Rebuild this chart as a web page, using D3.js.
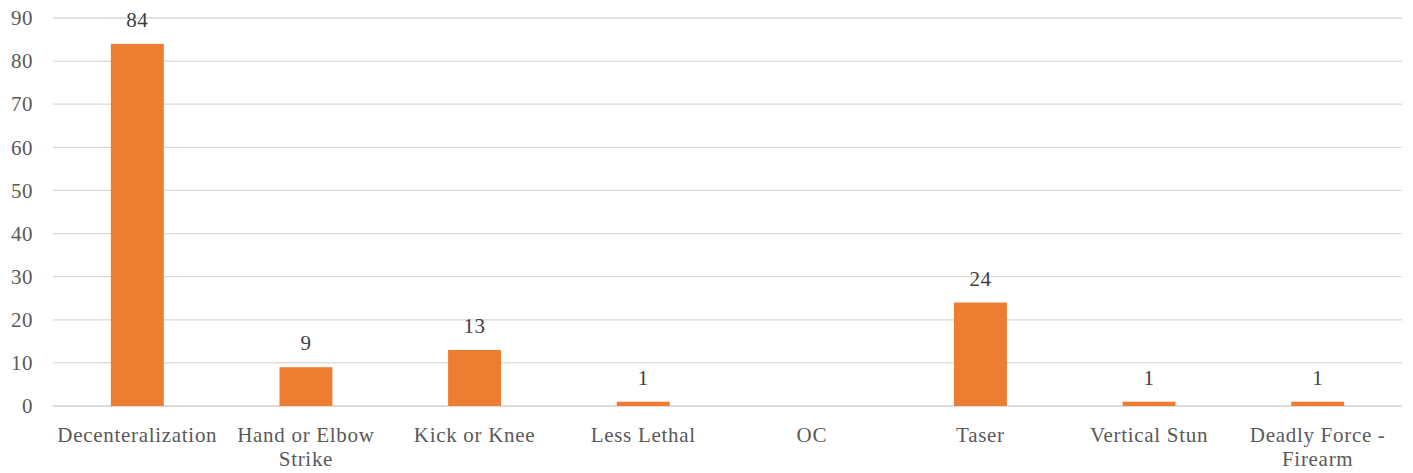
<!DOCTYPE html>
<html>
<head>
<meta charset="utf-8">
<script src="https://cdn.jsdelivr.net/npm/d3@7"></script>
<style>
  body { margin: 0; background: #fff; }
  text { font-family: "Liberation Serif", "DejaVu Serif", serif; }
</style>
</head>
<body>
<script>
// Datos del gráfico
const categorias = ["Decenteralization", "Hand or Elbow Strike", "Kick or Knee", "Less Lethal", "OC", "Taser", "Vertical Stun", "Deadly Force - Firearm"];
const valores = [84, 9, 13, 1, null, 24, 1, 1];
const ticksY = [0, 10, 20, 30, 40, 50, 60, 70, 80, 90];
// Cortes de línea de las etiquetas largas
const lineasEtiqueta = {
  "Hand or Elbow Strike": ["Hand or Elbow", "Strike"],
  "Deadly Force - Firearm": ["Deadly Force -", "Firearm"]
};

const ancho = 1413, alto = 473;
const margen = { top: 18, right: 11, bottom: 67, left: 53 };
const fuente = "'Liberation Serif', 'DejaVu Serif', serif";

const svg = d3.select("body").append("svg")
  .attr("width", ancho).attr("height", alto);

const x = d3.scaleBand()
  .domain(categorias)
  .range([margen.left, ancho - margen.right])
  .paddingInner(0.686)
  .paddingOuter(0.343);

const y = d3.scaleLinear()
  .domain([0, 90])
  .range([alto - margen.bottom, margen.top]);

// Líneas de la cuadrícula
svg.append("g")
  .selectAll("line")
  .data(ticksY)
  .join("line")
  .attr("x1", margen.left)
  .attr("x2", ancho - margen.right)
  .attr("y1", d => y(d))
  .attr("y2", d => y(d))
  .attr("stroke", d => d === 0 ? "#d0d0d0" : "#d9d9d9")
  .attr("stroke-width", d => d === 0 ? 1.5 : 1.3);

// Eje Y (solo etiquetas)
const ejeY = svg.append("g")
  .attr("transform", `translate(${margen.left},0)`)
  .call(d3.axisLeft(y).tickValues(ticksY).tickSize(0).tickPadding(20));
ejeY.select(".domain").remove();
ejeY.selectAll("text")
  .attr("fill", "#595959")
  .style("font-size", "21px")
  .style("letter-spacing", "0.5px")
  .style("font-family", fuente);

// Barras
const datos = categorias.map((c, i) => ({ c, v: valores[i] })).filter(d => d.v != null);

svg.append("g")
  .selectAll("rect")
  .data(datos)
  .join("rect")
  .attr("x", d => x(d.c))
  .attr("width", x.bandwidth())
  .attr("y", d => y(d.v))
  .attr("height", d => y(0) - y(d.v))
  .attr("fill", "#ed7d31");

// Etiquetas de valores
svg.append("g")
  .selectAll("text")
  .data(datos)
  .join("text")
  .attr("x", d => x(d.c) + x.bandwidth() / 2)
  .attr("y", d => y(d.v) - 17)
  .attr("text-anchor", "middle")
  .attr("fill", "#404040")
  .style("font-size", "21px")
  .style("letter-spacing", "0.5px")
  .style("font-family", fuente)
  .text(d => d.v);

// Etiquetas del eje X
const etiquetas = svg.append("g")
  .selectAll("text")
  .data(categorias)
  .join("text")
  .attr("x", d => x(d) + x.bandwidth() / 2)
  .attr("y", y(0) + 36)
  .attr("text-anchor", "middle")
  .attr("fill", "#595959")
  .style("font-size", "21px")
  .style("letter-spacing", "0.7px")
  .style("font-family", fuente);

etiquetas.selectAll("tspan")
  .data(d => lineasEtiqueta[d] || [d])
  .join("tspan")
  .attr("x", function () { return d3.select(this.parentNode).attr("x"); })
  .attr("dy", (d, i) => i === 0 ? 0 : 24)
  .text(d => d);
</script>
</body>
</html>
